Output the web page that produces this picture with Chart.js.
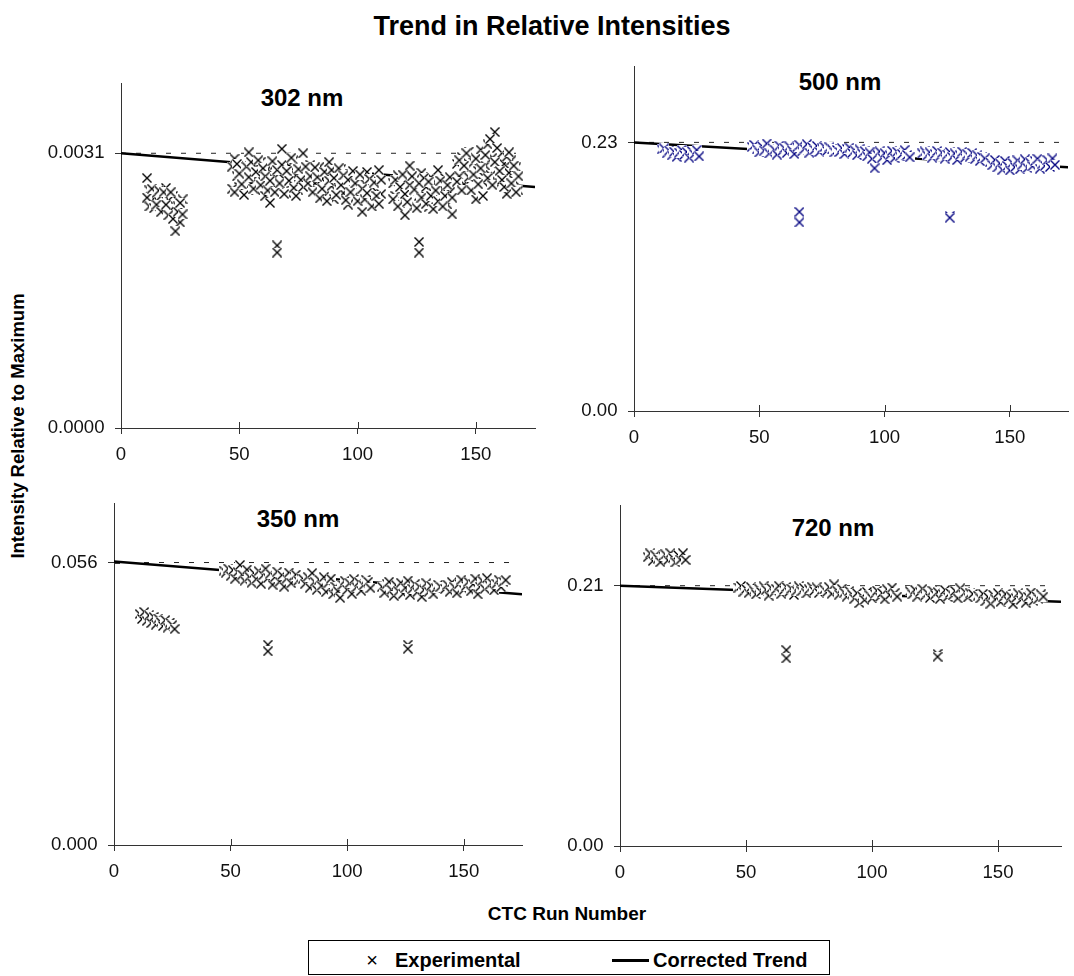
<!DOCTYPE html>
<html>
<head>
<meta charset="utf-8">
<script src="https://cdn.jsdelivr.net/npm/chart.js@4.4.1/dist/chart.umd.min.js"></script>
<style>
  html, body { margin: 0; padding: 0; background: #fff; }
  #page { position: relative; width: 1074px; height: 976px; overflow: hidden; background: #fff;
          font-family: "Liberation Sans", Arial, sans-serif; color: #000; }
  canvas { position: absolute; }
  .txt { position: absolute; white-space: nowrap; line-height: 1; font-weight: bold; transform: translate(-50%, -50%); }
  #legend { position: absolute; border: 1px solid #000; box-sizing: border-box; }
</style>
</head>
<body>
<div id="page">
  <div class="txt" style="left:552px; top:26px; font-size:27px;">Trend in Relative Intensities</div>
  <div class="txt" style="left:18px; top:426px; font-size:18.5px; transform: translate(-50%,-50%) rotate(-90deg);">Intensity Relative to Maximum</div>
  <div class="txt" style="left:567px; top:913px; font-size:19px;">CTC Run Number</div>
  <div class="txt" style="left:302px; top:98px; font-size:24px;">302 nm</div>
  <div class="txt" style="left:840px; top:82px; font-size:24px;">500 nm</div>
  <div class="txt" style="left:298px; top:519px; font-size:24px;">350 nm</div>
  <div class="txt" style="left:833px; top:528px; font-size:24px;">720 nm</div>
  <div id="legend" style="left:308px; top:940px; width:522px; height:35px;"></div>
  <div class="txt" style="left:372px; top:960px; font-size:20px; font-weight:normal;">×</div>
  <div class="txt" style="left:395px; top:960px; font-size:20px; transform: translate(0,-50%);">Experimental</div>
  <div style="position:absolute; left:612px; top:959px; width:37px; height:2.5px; background:#000;"></div>
  <div class="txt" style="left:653px; top:960px; font-size:20px; transform: translate(0,-50%);">Corrected Trend</div>

  <canvas id="c302" width="524" height="415" style="left:21px; top:58px;"></canvas>
  <canvas id="c500" width="540" height="415" style="left:534px; top:41px;"></canvas>
  <canvas id="c350" width="518" height="412" style="left:14px; top:478px;"></canvas>
  <canvas id="c720" width="551" height="411" style="left:520px; top:480px;"></canvas>
</div>
<script>
// ---------- DATA ----------
const runs = [11,12,13,14,15,16,17,18,19,20,21,22,23,24,25,26,
  47,48,49,50,51,52,53,54,55,56,57,58,59,60,61,62,63,64,65,66,67,68,69,70,71,72,73,74,75,76,77,78,79,80,
  81,82,83,84,85,86,87,88,89,90,91,92,93,94,95,96,97,98,99,100,101,102,103,104,105,106,107,108,109,110,
  115,116,117,118,119,120,121,122,123,124,125,126,127,128,129,130,131,132,133,134,135,136,137,138,139,140,
  142,143,144,145,146,147,148,149,150,151,152,153,154,155,156,157,158,159,160,161,162,163,164,165,166,167,168];

const i302a = [0.00282,0.00268,0.00262,0.00259,0.00265,0.00255,0.00262,0.00250,0.00271,0.00258,0.00246,0.00262,0.00239,0.00250,0.00232,0.00258,
  0.00295,0.00304,0.00284,0.00272,0.00290,0.00298,0.00280,0.00311,0.00276,0.00294,0.00268,0.00286,0.00300,0.00278,0.00262,0.00292,0.00254,0.00283,0.00297,0.00270,0.00288,0.00315,0.00281,0.00265,0.00296,0.00276,0.00302,0.00285,0.00268,0.00293,0.00310,0.00272,0.00287,0.00297,
  0.00290,0.00276,0.00268,0.00295,0.00281,0.00262,0.00288,0.00300,0.00273,0.00258,0.00284,0.00270,0.00292,0.00265,0.00279,0.00252,0.00287,0.00271,0.00260,0.00283,0.00268,0.00244,0.00276,0.00289,0.00262,0.00272,0.00255,0.00280,0.00291,0.00264,
  0.00276,0.00262,0.00285,0.00254,0.00270,0.00240,0.00281,0.00296,0.00266,0.00251,0.00279,0.00262,0.00288,0.00258,0.00272,0.00249,0.00283,0.00265,0.00277,0.00291,0.00256,0.00270,0.00282,0.00252,0.00266,0.00241,
  0.00298,0.00284,0.00306,0.00275,0.00292,0.00312,0.00281,0.00300,0.00258,0.00290,0.00314,0.00278,0.00296,0.00320,0.00286,0.00305,0.00334,0.00292,0.00276,0.00310,0.00298,0.00264,0.00288,0.00302,0.00280,0.00294,0.00268];
const i302b = [0.00260,0.00250,0.00270,0.00248,0.00252,0.00268,0.00244,0.00266,0.00252,0.00240,0.00266,0.00236,0.00222,0.00244,0.00254,0.00241,
  0.00270,0.00266,0.00298,0.00287,0.00275,0.00263,0.00295,0.00283,0.00300,0.00270,0.00289,0.00302,0.00274,0.00293,0.00284,0.00268,0.00279,0.00301,0.00266,0.00291,0.00276,0.00297,0.00264,0.00290,0.00279,0.00305,0.00271,0.00262,0.00292,0.00280,0.00272,0.00295,0.00276,0.00284,
  0.00266,0.00294,0.00283,0.00259,0.00270,0.00289,0.00256,0.00279,0.00291,0.00282,0.00263,0.00293,0.00274,0.00285,0.00257,0.00280,0.00266,0.00290,0.00276,0.00256,0.00286,0.00270,0.00258,0.00265,0.00281,0.00250,0.00277,0.00262,0.00253,0.00280,
  0.00258,0.00280,0.00250,0.00272,0.00286,0.00264,0.00255,0.00274,0.00284,0.00269,0.00248,0.00276,0.00260,0.00282,0.00253,0.00278,0.00262,0.00247,0.00268,0.00256,0.00279,0.00250,0.00262,0.00274,0.00283,0.00260,
  0.00278,0.00302,0.00268,0.00296,0.00310,0.00283,0.00268,0.00286,0.00304,0.00275,0.00293,0.00262,0.00308,0.00282,0.00326,0.00274,0.00300,0.00316,0.00290,0.00280,0.00272,0.00306,0.00311,0.00276,0.00296,0.00266,0.00284];

const i500 = [0.2240,0.2248,0.2205,0.2230,0.2188,0.2220,0.2175,0.2212,0.2236,0.2192,0.2218,0.2170,0.2226,0.2198,0.2234,0.2180,
  0.2262,0.2278,0.2240,0.2214,0.2268,0.2230,0.2290,0.2205,0.2255,0.2238,0.2196,0.2272,0.2224,0.2250,0.2210,0.2266,0.2232,0.2200,0.2258,0.2276,0.2222,0.2245,0.2284,0.2212,0.2260,0.2236,0.2270,0.2218,0.2248,0.2262,0.2228,0.2258,0.2240,0.2215,
  0.2235,0.2218,0.2250,0.2200,0.2244,0.2256,0.2210,0.2232,0.2190,0.2240,0.2205,0.2226,0.2180,0.2214,0.2160,0.2078,0.2196,0.2222,0.2170,0.2208,0.2148,0.2190,0.2228,0.2165,0.2220,0.2180,0.2200,0.2234,0.2192,0.2172,
  0.2205,0.2222,0.2188,0.2214,0.2170,0.2200,0.2226,0.2180,0.2212,0.2160,0.2196,0.2218,0.2174,0.2205,0.2150,0.2190,0.2220,0.2168,0.2198,0.2178,0.2210,0.2156,0.2188,0.2140,0.2175,0.2162,
  0.2130,0.2105,0.2150,0.2085,0.2120,0.2066,0.2142,0.2098,0.2060,0.2125,0.2088,0.2145,0.2070,0.2110,0.2155,0.2080,0.2128,0.2096,0.2140,0.2160,0.2075,0.2118,0.2100,0.2148,0.2090,0.2162,0.2108];

const i350 = [0.0458,0.0448,0.0462,0.0444,0.0455,0.0440,0.0452,0.0437,0.0449,0.0442,0.0434,0.0446,0.0431,0.0441,0.0436,0.0428,
  0.0544,0.0540,0.0548,0.0533,0.0545,0.0528,0.0541,0.0555,0.0536,0.0524,0.0546,0.0532,0.0520,0.0539,0.0527,0.0543,0.0518,0.0535,0.0548,0.0529,0.0538,0.0516,0.0531,0.0542,0.0522,0.0535,0.0512,0.0528,0.0540,0.0519,0.0533,0.0536,0.0524,0.0530,
  0.0528,0.0518,0.0532,0.0510,0.0539,0.0522,0.0506,0.0526,0.0514,0.0531,0.0502,0.0520,0.0528,0.0497,0.0512,0.0503,0.0490,0.0516,0.0524,0.0506,0.0519,0.0498,0.0527,0.0511,0.0521,0.0504,0.0515,0.0526,0.0522,0.0509,
  0.0512,0.0500,0.0518,0.0522,0.0506,0.0494,0.0515,0.0503,0.0520,0.0498,0.0510,0.0524,0.0496,0.0508,0.0517,0.0501,0.0512,0.0492,0.0506,0.0519,0.0502,0.0514,0.0497,0.0509,0.0516,0.0512,
  0.0508,0.0516,0.0502,0.0521,0.0511,0.0499,0.0518,0.0526,0.0506,0.0514,0.0522,0.0503,0.0517,0.0528,0.0497,0.0512,0.0524,0.0508,0.0529,0.0515,0.0520,0.0505,0.0518,0.0526,0.0511,0.0522,0.0525];

const i720 = [0.2330,0.2360,0.2300,0.2345,0.2318,0.2290,0.2338,0.2352,0.2305,0.2362,0.2325,0.2288,0.2348,0.2310,0.2362,0.2308,
  0.2085,0.2098,0.2052,0.2075,0.2040,0.2088,0.2062,0.2030,0.2078,0.2050,0.2095,0.2068,0.2020,0.2082,0.2045,0.2072,0.2100,0.2035,0.2065,0.2090,0.2048,0.2076,0.2025,0.2060,0.2094,0.2055,0.2080,0.2038,0.2070,0.2092,0.2058,0.2086,0.2042,0.2066,
  0.2070,0.2048,0.2088,0.2035,0.2110,0.2062,0.2028,0.2075,0.2045,0.2012,0.2058,0.2030,0.1995,0.2040,0.1960,0.2015,0.1985,0.2050,0.2022,0.1998,0.2035,0.2060,0.2008,0.2042,0.1990,0.2070,0.2025,0.2085,0.2040,0.2012,
  0.2055,0.2030,0.2068,0.2012,0.2048,0.2075,0.2020,0.2040,0.2002,0.2060,0.2028,0.2050,0.1995,0.2035,0.2065,0.2010,0.2042,0.2022,0.2058,0.1998,0.2078,0.2030,0.2048,0.2005,0.2038,0.2034,
  0.2020,0.1998,0.2035,0.1975,0.2010,0.1955,0.2028,0.1990,0.2040,0.1968,0.2005,0.2032,0.1980,0.2015,0.1950,0.2000,0.2038,0.1985,0.2022,0.1962,0.2008,0.2045,0.1978,0.2018,0.1995,0.2030,0.2012];

// outlying runs
const outlierRuns = [66, 66, 126, 126];
const out302 = [0.00206, 0.00198, 0.00210, 0.00198];
const out500 = [0.1705, 0.1615, 0.1670, 0.1655];
const out350 = [0.0397, 0.0384, 0.0397, 0.0389];
const out720 = [0.1580, 0.1514, 0.1550, 0.1527];

// corrected trend lines
const trendRuns = [0, 175];
const trend302 = [0.00310, 0.00272];
const trend500 = [0.2300, 0.2084];
const trend350 = [0.0562, 0.0497];
const trend720 = [0.2100, 0.1971];

// reference (dashed) level lines
const refRuns = [0, 171];
const ref302 = 0.0031, ref500 = 0.23, ref350 = 0.056, ref720 = 0.21;

// axes
const xTickValues = [0, 50, 100, 150];
const yTicks302 = [0, 0.0031], yLabels302 = ['0.0000', '0.0031'];
const yTicks500 = [0, 0.23],   yLabels500 = ['0.00', '0.23'];
const yTicks350 = [0, 0.056],  yLabels350 = ['0.000', '0.056'];
const yTicks720 = [0, 0.21],   yLabels720 = ['0.00', '0.21'];

// ---------- CHARTS ----------
Chart.defaults.font.family = '"Liberation Sans", Arial, sans-serif';
const AXIS = '#333';

// x-shaped marker with a white background box (as in the original plot)
function markerImage(color) {
  const c = document.createElement('canvas');
  c.width = 10; c.height = 10;
  const g = c.getContext('2d');
  g.fillStyle = '#fff'; g.fillRect(0, 0, 10, 10);
  g.strokeStyle = color; g.lineWidth = 1.35;
  g.beginPath();
  g.moveTo(0.5, 0.5); g.lineTo(9.5, 9.5);
  g.moveTo(9.5, 0.5); g.lineTo(0.5, 9.5);
  g.stroke();
  return c;
}

const crossTicks = {
  id: 'crossTicks',
  beforeDatasetsDraw(chart) {
    const {ctx, chartArea: a, scales: {x, y}} = chart;
    ctx.save();
    ctx.strokeStyle = AXIS; ctx.lineWidth = 1;
    ctx.beginPath();
    x.ticks.forEach(t => { const px = Math.round(x.getPixelForValue(t.value)) + 0.5; ctx.moveTo(px, a.bottom); ctx.lineTo(px, a.bottom - 6); });
    y.ticks.forEach(t => { const py = Math.round(y.getPixelForValue(t.value)) + 0.5; ctx.moveTo(a.left, py); ctx.lineTo(a.left + 6, py); });
    ctx.stroke();
    ctx.restore();
  }
};

function pts(xs, ys) { return xs.map((r, i) => ({x: r, y: ys[i]})); }

function makePanel(id, cfg) {
  const expData = [];
  cfg.series.forEach(s => expData.push(...pts(runs, s)));
  expData.push(...pts(outlierRuns, cfg.outliers));
  new Chart(document.getElementById(id), {
    type: 'scatter',
    data: {
      datasets: [
        { label: 'Experimental', data: expData, showLine: false, pointStyle: markerImage(cfg.color),
          pointRadius: 5, borderColor: cfg.color, backgroundColor: cfg.color },
        { label: 'Corrected Trend', data: pts(trendRuns, cfg.trend), showLine: true, pointRadius: 0,
          borderColor: '#000', borderWidth: 2.5, tension: 0 },
        { label: 'Reference', data: pts(refRuns, [cfg.ref, cfg.ref]), showLine: true, pointRadius: 0,
          borderColor: '#222', borderWidth: 1, borderDash: [5, 10] }
      ]
    },
    options: {
      responsive: false, animation: false, events: [],
      layout: { padding: { top: 25, right: cfg.padR, left: 0, bottom: 0 } },
      plugins: { legend: { display: false }, tooltip: { enabled: false }, title: { display: false } },
      scales: {
        x: {
          type: 'linear', min: 0, max: cfg.xMax,
          afterBuildTicks: s => { s.ticks = xTickValues.map(v => ({value: v})); },
          afterFit: s => { s.height = 45; },
          ticks: { autoSkip: false, maxRotation: 0, padding: 10, color: '#111', font: { size: 18.6 },
                   callback: v => String(v) },
          grid: { display: true, drawOnChartArea: false, drawTicks: true, tickLength: 6, color: AXIS },
          border: { display: true, color: AXIS, width: 1 }
        },
        y: {
          type: 'linear', min: 0, max: cfg.yMax,
          afterBuildTicks: s => { s.ticks = cfg.yTicks.map(v => ({value: v})); },
          afterFit: s => { s.width = 100; },
          ticks: { autoSkip: false, padding: 10.5, color: '#111', font: { size: 18.6 },
                   callback: (v, i) => cfg.yLabels[i] },
          grid: { display: true, drawOnChartArea: false, drawTicks: true, tickLength: 6, color: AXIS },
          border: { display: true, color: AXIS, width: 1 }
        }
      }
    },
    plugins: [crossTicks]
  });
}

makePanel('c302', { series: [i302a, i302b], outliers: out302, trend: trend302, ref: ref302,
  yTicks: yTicks302, yLabels: yLabels302, yMax: 0.003893, xMax: 175, padR: 10, color: '#000' });
makePanel('c500', { series: [i500], outliers: out500, trend: trend500, ref: ref500,
  yTicks: yTicks500, yLabels: yLabels500, yMax: 0.2954, xMax: 173.2, padR: 1, color: '#000080' });
makePanel('c350', { series: [i350], outliers: out350, trend: trend350, ref: ref350,
  yTicks: yTicks350, yLabels: yLabels350, yMax: 0.0678, xMax: 175, padR: 10, color: '#000' });
makePanel('c720', { series: [i720], outliers: out720, trend: trend720, ref: ref720,
  yTicks: yTicks720, yLabels: yLabels720, yMax: 0.2751, xMax: 175, padR: 10, color: '#000' });
</script>
</body>
</html>
